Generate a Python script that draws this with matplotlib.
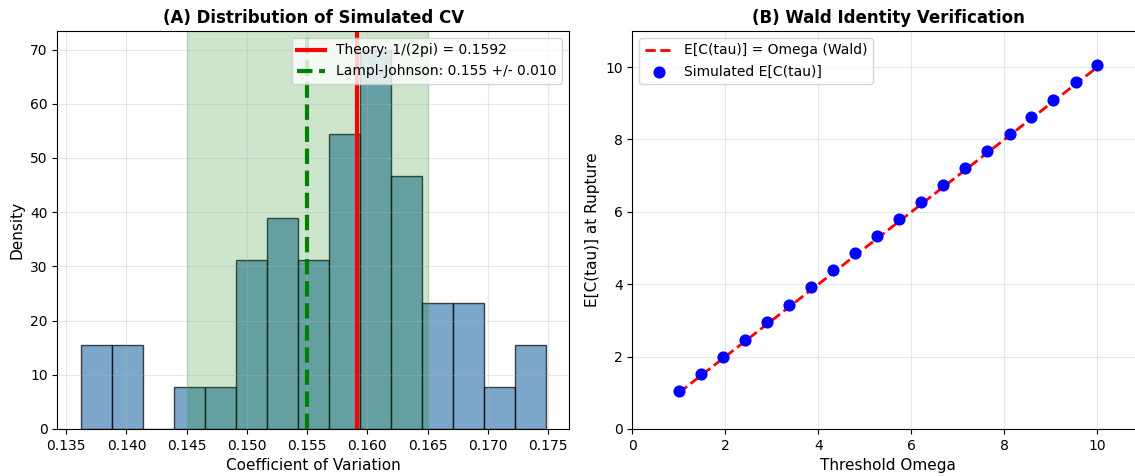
import matplotlib
matplotlib.use('Agg')
import matplotlib.pyplot as plt
import numpy as np

# ============ 数据 ============
# (A) 模拟 CV 直方图：15 个等宽分组的计数（50 个样本）
cv_min, cv_max = 0.1362, 0.1748
cv_counts = [2, 2, 0, 1, 1, 4, 5, 4, 7, 9, 6, 3, 3, 1, 2]
theory_cv = 1 / (2 * np.pi)
lj_mean = 0.155
lj_sd = 0.010

# (B) Wald 恒等式验证
omega = [1.00, 1.47, 1.95, 2.42, 2.89, 3.37, 3.84, 4.32, 4.79, 5.26,
         5.74, 6.21, 6.68, 7.16, 7.63, 8.11, 8.58, 9.05, 9.53, 10.00]
sim_ec = [1.05, 1.53, 2.00, 2.47, 2.95, 3.43, 3.91, 4.38, 4.85, 5.32,
          5.80, 6.27, 6.74, 7.21, 7.69, 8.16, 8.63, 9.10, 9.59, 10.06]

fig = plt.figure(figsize=(11.35, 4.76), dpi=100)
ax1 = fig.add_axes([0.0506, 0.099, 0.4507, 0.836])
ax2 = fig.add_axes([0.5572, 0.099, 0.4507, 0.836])

# ---- (A) ----
edges = np.linspace(cv_min, cv_max, len(cv_counts) + 1)
centers = (edges[:-1] + edges[1:]) / 2
ax1.hist(centers, bins=edges, weights=cv_counts, density=True,
         color='steelblue', edgecolor='black', alpha=0.7)
ax1.axvline(theory_cv, color='red', linewidth=3,
            label=f'Theory: 1/(2pi) = {theory_cv:.4f}')
ax1.axvline(lj_mean, color='green', linestyle='--', linewidth=3,
            label=f'Lampl-Johnson: {lj_mean:.3f} +/- {lj_sd:.3f}')
ax1.axvspan(lj_mean - lj_sd, lj_mean + lj_sd, color='green', alpha=0.2)
ax1.set_xlabel('Coefficient of Variation', fontsize=11)
ax1.set_ylabel('Density', fontsize=11)
ax1.set_title('(A) Distribution of Simulated CV', fontsize=12, fontweight='bold')
ax1.legend(loc='upper right', fontsize=10)
ax1.grid(True, alpha=0.3)

# ---- (B) ----
ax2.plot(omega, omega, 'r--', linewidth=2, label='E[C(tau)] = Omega (Wald)')
ax2.scatter(omega, sim_ec, color='blue', s=60, zorder=5, label='Simulated E[C(tau)]')
ax2.set_xlim(0, 11)
ax2.set_ylim(0, 11)
ax2.set_xlabel('Threshold Omega', fontsize=11)
ax2.set_ylabel('E[C(tau)] at Rupture', fontsize=11)
ax2.set_title('(B) Wald Identity Verification', fontsize=12, fontweight='bold')
ax2.legend(loc='upper left', fontsize=10)
ax2.grid(True, alpha=0.3)

fig.savefig('out.png', dpi=100)
